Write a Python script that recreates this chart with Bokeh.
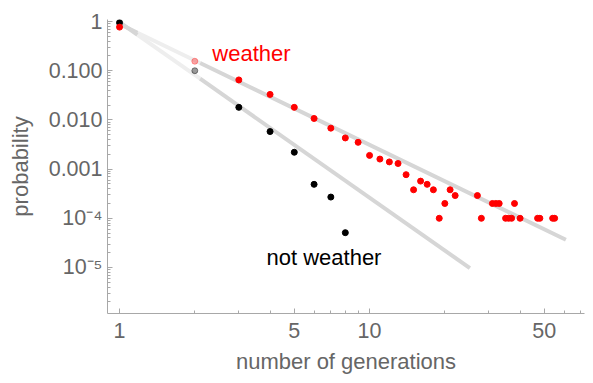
import math
from bokeh.plotting import figure
from bokeh.models import Range1d, FixedTicker, ColumnDataSource
from bokeh.core.properties import value
from bokeh.embed import file_html
from bokeh.resources import INLINE

# ---- data ----
gens_weather = [1, 2, 3, 4, 5, 6, 7, 8, 9, 10, 11, 12, 13, 14, 15, 16, 17, 18, 19, 20,
                21, 22, 27, 28, 31, 32, 33, 35, 36, 37, 38, 40, 47, 48, 54, 55]
prob_weather = [0.77, 0.156, 0.065, 0.033, 0.018, 0.0107, 0.0068, 0.0043, 0.0035, 0.0019,
                0.0016, 0.0014, 0.0013, 7.7e-4, 3.8e-4, 5.7e-4, 4.9e-4, 3.8e-4, 1.0e-4, 2.0e-4,
                3.8e-4, 2.9e-4, 2.9e-4, 1.0e-4, 2.0e-4, 2.0e-4, 2.0e-4, 1.0e-4, 1.0e-4, 1.0e-4,
                2.0e-4, 1.0e-4, 1.0e-4, 1.0e-4, 1.0e-4, 1.0e-4]
gens_not = [1, 2, 3, 4, 5, 6, 7, 8]
prob_not = [0.95, 0.10, 0.018, 0.0058, 0.0022, 4.9e-4, 2.7e-4, 5.1e-5]

# power-law fit lines (end points)
fit_weather_x = [1.0, 61.0]
fit_weather_y = [0.89, 3.66e-5]
fit_not_x = [1.0, 25.2]
fit_not_y = [0.97, 9.7e-6]

faded_gen = 2            # points at this generation appear washed out
fade_span = [1.18, 2.1]  # x span where the fit lines appear washed out

x_major = [1, 5, 10, 50]
x_minor = [2, 3, 4, 6, 7, 8, 9, 20, 30, 40, 60, 70]
y_major = [1e-5, 1e-4, 1e-3, 1e-2, 1e-1, 1]
y_labels = ["10\u207b\u2075", "10\u207b\u2074", "0.001", "0.010", "0.100", "1"]

labels_text = ["weather", "not weather"]
labels_color = ["#ff0000", "#000000"]

# ---- styling ----
FONT = "Liberation Sans"
GRAY_TXT = "#666666"
GRAY_AX = "#a8a8a8"

p = figure(width=586, height=376, x_axis_type="log", y_axis_type="log",
           x_range=Range1d(0.895, 72.4), y_range=Range1d(1.16e-6, 1.1),
           output_backend="svg", toolbar_location=None,
           min_border_left=107, min_border_right=2, min_border_top=19, min_border_bottom=63)
p.outline_line_color = None
p.grid.visible = False
p.background_fill_color = "white"
p.border_fill_color = "white"

y_minor = []
for e in range(-6, 0):
    for k in range(2, 10):
        v = k * 10.0 ** e
        if v > 1.16e-6:
            y_minor.append(v)

p.xaxis.ticker = FixedTicker(ticks=x_major, minor_ticks=x_minor)
p.yaxis.ticker = FixedTicker(ticks=y_major, minor_ticks=y_minor)
p.xaxis.major_label_overrides = {t: str(t) for t in x_major}
p.yaxis.major_label_overrides = {t: s for t, s in zip(y_major, y_labels)}

for ax in (p.xaxis, p.yaxis):
    ax.axis_line_color = GRAY_AX
    ax.major_tick_line_color = GRAY_AX
    ax.minor_tick_line_color = GRAY_AX
    ax.major_tick_in = 5
    ax.major_tick_out = 0
    ax.minor_tick_in = 3
    ax.minor_tick_out = 0
    ax.major_label_text_font = FONT
    ax.major_label_text_font_size = "21.5px"
    ax.major_label_text_color = GRAY_TXT
    ax.axis_label_text_font = FONT
    ax.axis_label_text_font_size = "22px"
    ax.axis_label_text_font_style = "normal"
    ax.axis_label_text_color = GRAY_TXT

p.xaxis.axis_label = "number of generations"
p.yaxis.axis_label = "probability"
p.xaxis.major_label_standoff = 9
p.yaxis.major_label_standoff = 5
p.xaxis.axis_label_standoff = 8
p.yaxis.axis_label_standoff = 13


def interp_log(xs, ys, xv):
    lx0, lx1 = math.log10(xs[0]), math.log10(xs[1])
    ly0, ly1 = math.log10(ys[0]), math.log10(ys[1])
    t = (math.log10(xv) - lx0) / (lx1 - lx0)
    return 10 ** (ly0 + t * (ly1 - ly0))


for fx, fy in ((fit_weather_x, fit_weather_y), (fit_not_x, fit_not_y)):
    a, b = fade_span
    ya, yb = interp_log(fx, fy, a), interp_log(fx, fy, b)
    p.line([fx[0], a], [fy[0], ya], line_color="#d6d6d6", line_width=4)
    p.line([a, b], [ya, yb], line_color="#eeeeee", line_width=4)
    p.line([b, fx[1]], [yb, fy[1]], line_color="#d6d6d6", line_width=4)

src_w = ColumnDataSource(dict(x=gens_weather, y=prob_weather,
                              a=[0.33 if g == faded_gen else 1.0 for g in gens_weather]))
src_n = ColumnDataSource(dict(x=gens_not, y=prob_not,
                              a=[0.4 if g == faded_gen else 1.0 for g in gens_not]))
p.scatter("x", "y", source=src_n, size=6, color="#000000", alpha="a")
p.scatter("x", "y", source=src_w, size=6, color="#ff0000", alpha="a")

# annotations (vertical centre of each label)
label_x = [2.35, 3.87]
label_y = [0.22, 1.57e-5]
p.text(x=label_x, y=label_y, text=labels_text, text_color=labels_color,
       text_font=value(FONT), text_font_size="22px",
       text_align="left", text_baseline="middle")

open("out.html", "w").write(file_html(p, INLINE))
